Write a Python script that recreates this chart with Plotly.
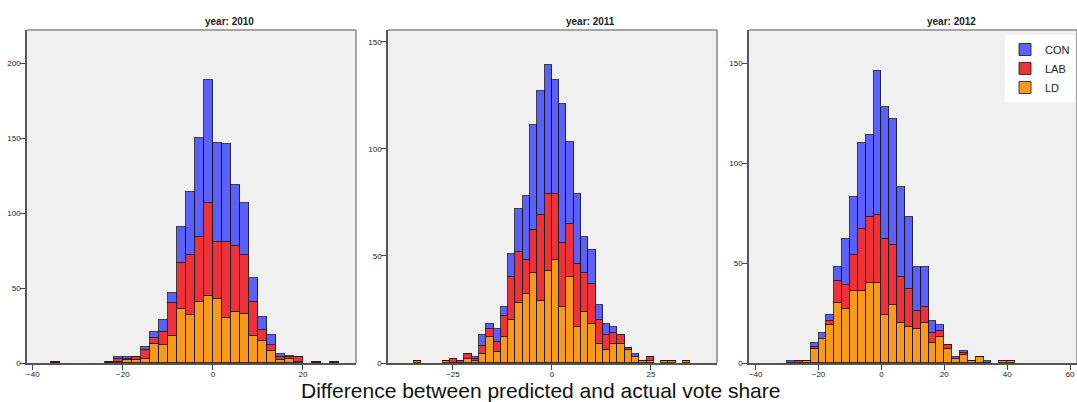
import plotly.graph_objects as go

# ---------------- data ----------------
years = [2010, 2011, 2012]
parties = ["CON", "LAB", "LD"]
party_colors = {"CON": "#5b5ffc", "LAB": "#ee323a", "LD": "#f7991c"}

bin_width = {2010: 2.0, 2011: 1.84, 2012: 2.5}

# bin index k: bin spans [k*width, (k+1)*width]
bins_2010 = [-18, -12, -11, -10, -9, -8, -7, -6, -5, -4, -3, -2, -1, 0, 1, 2, 3, 4, 5, 6, 7, 8, 9, 11, 13]
con_2010 = [0, 0, 1, 1, 0, 2, 4, 8, 7, 24, 42, 66, 82, 66, 65, 41, 35, 16, 9, 7, 2, 1, 0, 0, 0]
lab_2010 = [1, 1, 2, 1, 2, 6, 4, 9, 22, 31, 40, 43, 62, 38, 51, 44, 39, 23, 7, 4, 2, 1, 3, 1, 1]
ld_2010 = [0, 0, 1, 2, 2, 3, 13, 12, 18, 36, 32, 41, 45, 43, 30, 34, 33, 18, 15, 8, 2, 3, 1, 0, 0]

bins_2011 = [-19, -15, -14, -13, -12, -11, -10, -9, -8, -7, -6, -5, -4, -3, -2, -1, 0, 1, 2, 3, 4, 5, 6, 7, 8, 9, 10, 11, 12, 13, 15, 16, 18]
con_2011 = [0, 0, 0, 0, 0, 1, 5, 2, 6, 4, 11, 20, 30, 49, 58, 60, 53, 65, 38, 33, 17, 16, 7, 5, 3, 0, 0, 1, 0, 0, 0, 0, 0]
lab_2011 = [0, 0, 2, 1, 2, 1, 4, 4, 5, 10, 20, 24, 16, 20, 40, 36, 31, 30, 25, 29, 18, 19, 11, 7, 5, 4, 1, 0, 0, 2, 0, 0, 0]
ld_2011 = [1, 1, 0, 0, 2, 1, 4, 12, 5, 12, 20, 28, 32, 42, 29, 43, 48, 26, 40, 17, 24, 18, 9, 6, 9, 9, 6, 3, 1, 1, 1, 1, 1]

bins_2012 = [-12, -11, -10, -9, -8, -7, -6, -5, -4, -3, -2, -1, 0, 1, 2, 3, 4, 5, 6, 7, 8, 9, 10, 11, 12, 13, 15, 16]
con_2012 = [1, 0, 0, 2, 3, 3, 7, 23, 29, 43, 41, 72, 66, 63, 45, 36, 22, 20, 6, 3, 0, 1, 1, 0, 0, 1, 0, 0]
lab_2012 = [0, 1, 0, 1, 0, 2, 11, 12, 18, 31, 33, 34, 38, 30, 23, 19, 9, 8, 5, 3, 2, 0, 1, 0, 0, 0, 0, 0]
ld_2012 = [0, 0, 1, 7, 12, 19, 30, 27, 36, 36, 40, 40, 24, 29, 20, 18, 17, 20, 10, 13, 7, 2, 4, 1, 3, 0, 1, 1]

x_ticks = {2010: [-40, -20, 0, 20], 2011: [-25, 0, 25], 2012: [-40, -20, 0, 20, 40, 60]}
y_ticks = {2010: [0, 50, 100, 150, 200], 2011: [0, 50, 100, 150], 2012: [0, 50, 100, 150]}

data = {
    2010: (bins_2010, {"CON": con_2010, "LAB": lab_2010, "LD": ld_2010}),
    2011: (bins_2011, {"CON": con_2011, "LAB": lab_2011, "LD": ld_2011}),
    2012: (bins_2012, {"CON": con_2012, "LAB": lab_2012, "LD": ld_2012}),
}

# ---------------- layout geometry ----------------
W, H = 1077, 402


def px(page_x):
    return page_x / W


def py(page_y):
    return (H - page_y) / H


x_domains = {2010: (27, 356), 2011: (388, 717), 2012: (749, 1077)}
x_ranges = {2010: [-41.3, 31.8], 2011: [-41.4, 41.7], 2012: [-42.1, 62.2]}
y_ranges = {2010: [0, 222], 2011: [0, 155.5], 2012: [0, 166.7]}
y_dom = [py(363), py(30)]
title_x = {2010: 229, 2011: 590, 2012: 951}

fig = go.Figure()
layout = dict(
    width=W, height=H,
    margin=dict(l=0, r=0, t=0, b=0, autoexpand=False),
    paper_bgcolor="white",
    plot_bgcolor="#f0f0f0",
    barmode="stack",
    bargap=0,
    font=dict(family="Liberation Sans, Arial, sans-serif", color="#222"),
    showlegend=True,
    legend=dict(
        x=px(1075), y=py(35), xanchor="right", yanchor="top",
        bgcolor="white", font=dict(size=11, color="#222"),
        traceorder="reversed", itemwidth=30,
        tracegroupgap=0, borderwidth=0,
    ),
    shapes=[], annotations=[],
)

for i, yr in enumerate(years):
    n = "" if i == 0 else str(i + 1)
    xa, ya = "x" + n, "y" + n
    bins, vals = data[yr]
    w = bin_width[yr]
    xs = [(k + 0.5) * w for k in bins]
    for p in ["LD", "LAB", "CON"]:
        fig.add_trace(go.Bar(
            x=xs, y=vals[p], width=w, name=p,
            marker=dict(color=party_colors[p], line=dict(color="rgba(20,20,20,0.8)", width=1)),
            xaxis=xa, yaxis=ya, showlegend=(yr == 2012),
            legendgroup=p,
        ))
    d0, d1 = x_domains[yr]
    layout["xaxis" + n] = dict(
        domain=[px(d0), min(px(d1), 1.0)], range=x_ranges[yr], anchor=ya,
        tickvals=x_ticks[yr], ticks="outside", ticklen=5, tickcolor="#444",
        showline=True, linecolor="#555", linewidth=1.5, showgrid=False, zeroline=False,
        tickfont=dict(size=8, color="#222"), automargin=False, ticklabelstandoff=-2,
    )
    layout["yaxis" + n] = dict(
        domain=y_dom, range=y_ranges[yr], anchor=xa,
        tickvals=y_ticks[yr], ticks="outside", ticklen=5, tickcolor="#444",
        showline=True, linecolor="#555", linewidth=1.5, showgrid=False, zeroline=False,
        tickfont=dict(size=8, color="#222"), automargin=False, ticklabelstandoff=-2,
    )
    # lighter top and right borders
    layout["shapes"].append(dict(type="line", xref=xa + " domain", yref=ya + " domain",
                                 x0=0, x1=1, y0=1, y1=1, line=dict(color="#8a8a8a", width=1.5)))
    layout["shapes"].append(dict(type="line", xref=xa + " domain", yref=ya + " domain",
                                 x0=1, x1=1, y0=0, y1=1, line=dict(color="#8a8a8a", width=1.5)))
    layout["annotations"].append(dict(
        text="<b>year: %d</b>" % yr, xref="paper", yref="paper",
        x=px(title_x[yr]), y=py(21), xanchor="center", yanchor="middle",
        showarrow=False, font=dict(size=10, color="#222"),
    ))

layout["annotations"].append(dict(
    text="Difference between predicted and actual vote share", xref="paper", yref="paper",
    x=px(540), y=py(390), xanchor="center", yanchor="middle",
    showarrow=False, font=dict(size=21, color="#111"),
))

fig.update_layout(**layout)
fig.write_html(
    "out.html",
    config={"displayModeBar": False},
    post_script="document.body.style.margin='0';document.body.style.overflow='hidden';",
)
